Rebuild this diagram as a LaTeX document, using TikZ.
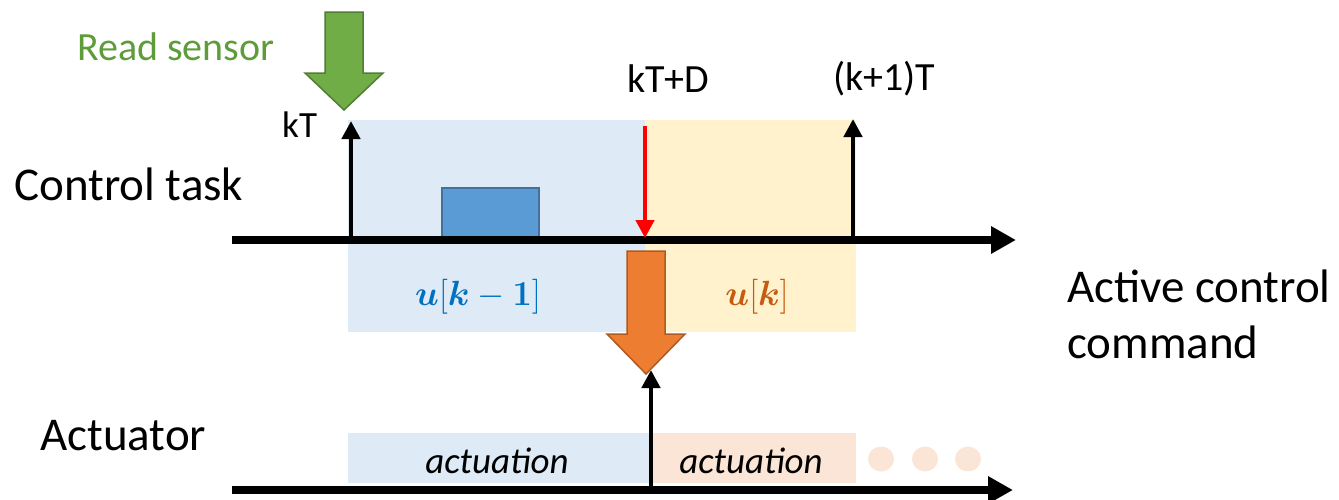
\RequirePackage{fix-cm}
\documentclass[tikz,border=0pt]{standalone}
\usepackage{fontspec}
\setmainfont{Carlito}
\usepackage{amsmath}
\usetikzlibrary{arrows.meta}
\definecolor{lblue}{HTML}{DEEBF7}
\definecolor{lyellow}{HTML}{FFF2CC}
\definecolor{lorange}{HTML}{FBE5D6}
\definecolor{taskfill}{HTML}{5B9BD5}
\definecolor{taskline}{HTML}{41719C}
\definecolor{gfill}{HTML}{70AD47}
\definecolor{gline}{HTML}{507E32}
\definecolor{ofill}{HTML}{ED7D31}
\definecolor{oline}{HTML}{AE5A21}
\definecolor{gtext}{HTML}{5E9C3A}
\definecolor{btext}{HTML}{0070C0}
\definecolor{otext}{HTML}{C55A11}
\begin{document}
\begin{tikzpicture}[x=1pt,y=-1pt,
  lbl/.style={inner sep=0pt,anchor=base west},
  big/.style={font=\fontsize{47}{56}\selectfont},
  mid/.style={font=\fontsize{40}{48}\selectfont},
  axis/.style={line width=7.5pt,-{Triangle[length=25pt,width=26pt]}},
  tick/.style={line width=4.5pt,-{Triangle[length=18pt,width=18pt]}},
  blockarrow/.style={line width=1.5pt,line join=miter},
  act/.style={inner sep=0pt,font=\fontsize{37}{44}\selectfont\itshape},
  mathlbl/.style={inner sep=0pt,font=\fontsize{35}{42}\selectfont}]
\useasboundingbox (0,0) rectangle (1339,499);
% background regions
\fill[lblue] (348,120) rectangle (645,332);
\fill[lyellow] (645,120) rectangle (856,332);
\fill[lblue] (348,433) rectangle (649,483);
\fill[lorange] (649,433) rectangle (856,483);
\fill[lorange] (881,459) ellipse (13 and 12.5);
\fill[lorange] (925,459) ellipse (13 and 12.5);
\fill[lorange] (968,459) ellipse (13 and 12.5);
% task block
\draw[taskline,fill=taskfill,line width=2pt] (442,188) rectangle (539,240);
% coordinates
\coordinate (ta0) at (232,240);
\coordinate (ta1) at (1016,240);
\coordinate (ba0) at (232,490);
\coordinate (ba1) at (1013,490);
\coordinate (kTb) at (351,240);
\coordinate (kTt) at (351,121);
\coordinate (k1b) at (853,240);
\coordinate (k1t) at (853,119);
\coordinate (rdt) at (645,126);
\coordinate (rdb) at (645,238);
\coordinate (acb) at (651,490);
\coordinate (act) at (651,370);
% axes
\draw[axis] (ta0) -- (ta1);
\draw[axis] (ba0) -- (ba1);
% ticks
\draw[tick] (kTb) -- (kTt);
\draw[tick] (k1b) -- (k1t);
\draw[tick,red] (rdt) -- (rdb);
\draw[tick] (acb) -- (act);
% block arrows
\draw[blockarrow,gline,fill=gfill] (325,12) -- (363,12) -- (363,73) -- (383,73) -- (344,110) -- (305,73) -- (325,73) -- cycle;
\draw[blockarrow,oline,fill=ofill] (627,251) -- (665,251) -- (665,334) -- (685,334) -- (646,374) -- (607,334) -- (627,334) -- cycle;
% texts
\node[lbl,mid,text=gtext] (read) at (77,60) {Read sensor};
\node[lbl,font=\fontsize{37}{44}\selectfont] (kT) at (282,137) {kT};
\node[lbl,mid] (kTD) at (627,92) {kT+D};
\node[lbl,mid] (k1T) at (833,90) {(k+1)T};
\node[lbl,big] (ctrl) at (14,200) {Control task};
\node[lbl,big] (actu) at (40,450) {Actuator};
\node[lbl,big,align=left] (acc) at (1067,358) {Active control\\command};
\node[mathlbl,text=btext] (uk1) at (478,297) {$\boldsymbol{u}[\boldsymbol{k}-\boldsymbol{1}]$};
\node[mathlbl,text=otext] (uk) at (757,297) {$\boldsymbol{u}[\boldsymbol{k}]$};
\node[act] (a1) at (497,461) {actuation};
\node[act] (a2) at (751,461) {actuation};
\end{tikzpicture}
\end{document}
